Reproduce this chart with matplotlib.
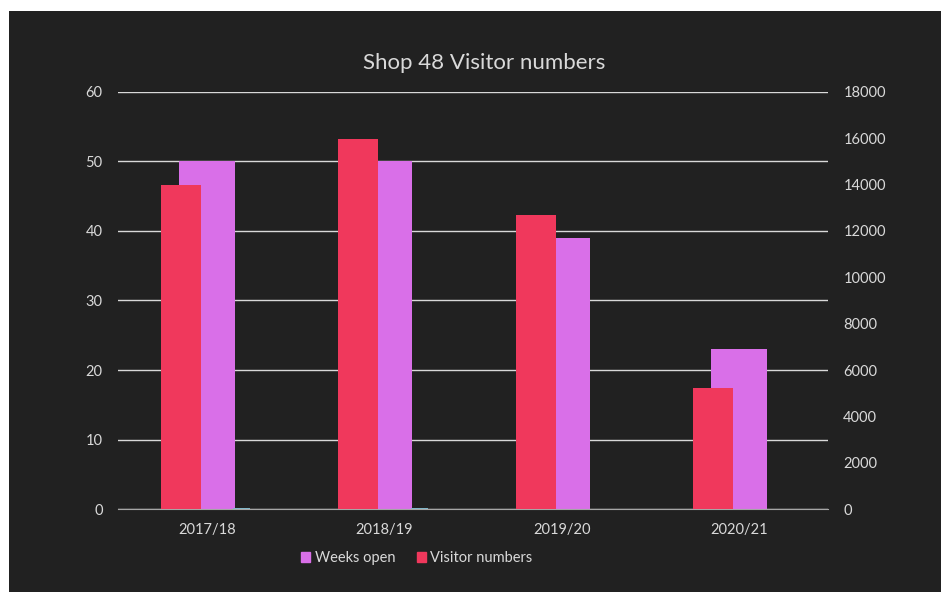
import numpy as np
import matplotlib.pyplot as plt
import matplotlib.patches as mpatches

years = ["2017/18", "2018/19", "2019/20", "2020/21"]
weeks_open = [50, 50, 39, 23]
visitors = [14000, 15950, 12700, 5240]
other = [0.2, 0.2, 0, 0]

bg = "#212121"
txt = "#d9d9d9"
violet = "#d96fe8"
red = "#f0385c"
cyan = "#7fb8cc"

plt.rcParams['font.family'] = ['Lato', 'DejaVu Sans']

fig = plt.figure(figsize=(9.41, 5.92), dpi=100)
fig.patch.set_facecolor(bg)
# white strips along top and left edge
fig.patches.append(mpatches.Rectangle((0, 1 - 11 / 592), 1, 11 / 592,
                                      transform=fig.transFigure,
                                      facecolor="white", edgecolor="none"))
fig.patches.append(mpatches.Rectangle((0, 0), 9 / 941, 1,
                                      transform=fig.transFigure,
                                      facecolor="white", edgecolor="none"))

ax = fig.add_axes([0.1254, 0.1402, 0.7545, 0.7044])
ax.set_facecolor("none")
x = np.arange(len(years))

ax.bar(x, weeks_open, width=0.315, color=violet, zorder=2)
ax.bar(x + 0.197, other, width=0.095, color=cyan, zorder=2)
ax.set_ylim(0, 60)
ax.set_yticks(range(0, 61, 10))
ax.set_xlim(-0.5, 3.5)
ax.set_xticks(x)
ax.set_xticklabels(years)
ax.yaxis.grid(True, color="#d9d9d9", linewidth=1)
ax.set_axisbelow(True)

ax2 = ax.twinx()
ax2.bar(x - 0.147, visitors, width=0.225, color=red, zorder=3)
ax2.set_ylim(0, 18000)
ax2.set_yticks(range(0, 18001, 2000))

for a in (ax, ax2):
    for s in a.spines.values():
        s.set_visible(False)
    a.tick_params(length=0, colors=txt, labelsize=10.5)
ax.tick_params(axis="y", pad=11)
ax2.tick_params(axis="y", pad=11)
ax.tick_params(axis="x", pad=10)
ax2.spines["bottom"].set_visible(True)
ax2.spines["bottom"].set_color("#a6a6a6")

fig.text(0.515, 0.893, "Shop 48 Visitor numbers", color=txt, fontsize=16,
         ha="center", va="center")

handles = [mpatches.Patch(color=violet), mpatches.Patch(color=red)]
fig.legend(handles, ["Weeks open", "Visitor numbers"], loc="center",
           bbox_to_anchor=(0.443, 0.057), ncol=2, frameon=False,
           labelcolor=txt, fontsize=10.5, handlelength=0.6, handleheight=0.6,
           handletextpad=0.3, columnspacing=1.5)

fig.savefig("out.png", dpi=100, facecolor=fig.get_facecolor())
